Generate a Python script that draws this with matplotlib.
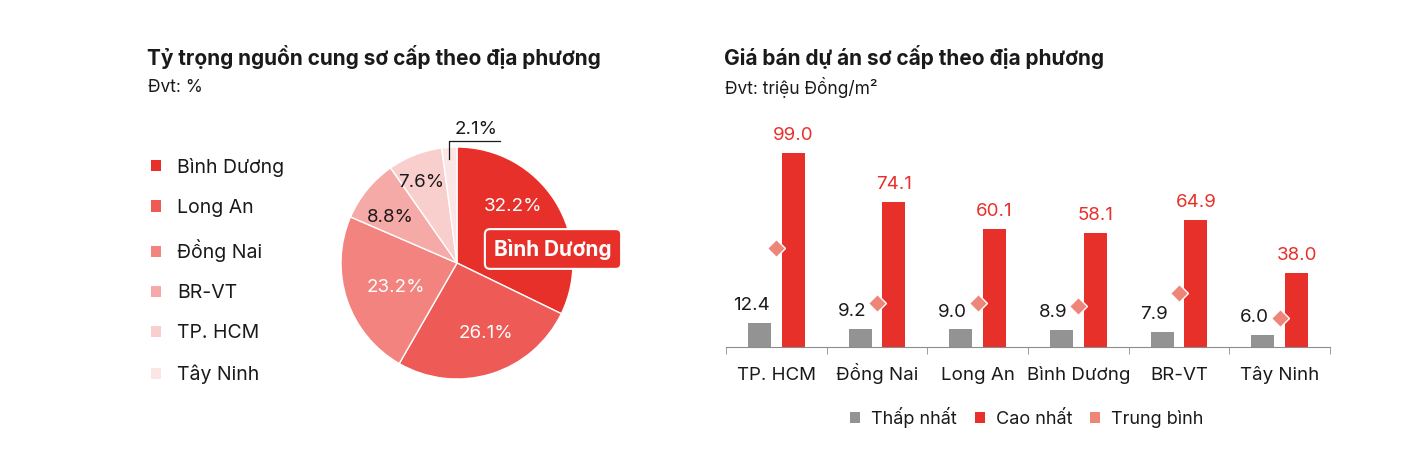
import matplotlib.pyplot as plt
from matplotlib.patches import Patch

plt.rcParams['font.family'] = ['Inter', 'DejaVu Sans']

# left: supply share
share_labels = ['Bình Dương', 'Long An', 'Đồng Nai', 'BR-VT', 'TP. HCM', 'Tây Ninh']
share_values = [32.2, 26.1, 23.2, 8.8, 7.6, 2.1]
share_colors = ['#E8302A', '#EE5A55', '#F2837E', '#F5AAA7', '#F9CFCD', '#FCE6E5']

# right: prices
regions = ['TP. HCM', 'Đồng Nai', 'Long An', 'Bình Dương', 'BR-VT', 'Tây Ninh']
price_min = [12.4, 9.2, 9.0, 8.9, 7.9, 6.0]
price_max = [99.0, 74.1, 60.1, 58.1, 64.9, 38.0]
price_avg = [50.3, 22.3, 22.7, 20.8, 27.7, 14.7]

GRAY = '#939393'
RED = '#E8302A'
PINK = '#EE8579'
TXT = '#1a1a1a'

W, H = 1422, 468
fig = plt.figure(figsize=(W / 100, H / 100), dpi=100)


def fx(px):
    return px / W


def fy(py):
    return 1 - py / H


# titles
fig.text(fx(147), fy(57), 'Tỷ trọng nguồn cung sơ cấp theo địa phương',
         fontsize=15, fontweight='bold', color=TXT, va='center')
fig.text(fx(148), fy(87), 'Đvt: %', fontsize=12.5, color=TXT, va='center')
fig.text(fx(724), fy(57), 'Giá bán dự án sơ cấp theo địa phương',
         fontsize=15, fontweight='bold', color=TXT, va='center')
fig.text(fx(725), fy(87), 'Đvt: triệu Đồng/m²', fontsize=12.5, color=TXT,
         va='center')

# ---- pie ----
cx, cy, R = 457, 263, 116
half = 130
axp = fig.add_axes([fx(cx - half), fy(cy + half), 2 * half / W, 2 * half / H])
lim = half / R
wedges, _ = axp.pie(share_values, colors=share_colors, startangle=90,
                    counterclock=False,
                    wedgeprops=dict(edgecolor='white', linewidth=1.0))
axp.set_xlim(-lim, lim)
axp.set_ylim(-lim, lim)
axp.set_aspect('equal')
axp.axis('off')

import numpy as np

# label placement (radius, angle nudge in degrees)
lab_pos = [(0.69, 13), (0.66, 5), (0.57, 3), (0.70, 5), (0.76, 3)]
lab_col = ['white', 'white', 'white', TXT, TXT]
for w, v, (r, da), c in zip(wedges, share_values, lab_pos, lab_col):
    mid = np.deg2rad((w.theta1 + w.theta2) / 2 + da)
    axp.text(r * np.cos(mid), r * np.sin(mid), f'{v:.1f}%', color=c,
             fontsize=13.5, ha='center', va='center')

# small slice with leader line
w = wedges[-1]
mid = np.deg2rad((w.theta1 + w.theta2) / 2)
x0 = np.cos(mid)
y0 = np.sin(mid) * 0.9
y1 = (cy - 141) / R
x1 = (500 - cx) / R
axp.plot([x0, x0, x1], [y0, y1, y1], color=TXT, lw=0.9, clip_on=False)
axp.text((x0 + x1) / 2 + 0.01, y1 + 0.03, f'{share_values[-1]:.1f}%',
         color=TXT, fontsize=13.5, ha='center', va='bottom', clip_on=False)

# highlight box
axp.text((553 - cx) / R, (cy - 249) / R, share_labels[0], color='white',
         fontsize=15, fontweight='bold', ha='center', va='center',
         bbox=dict(boxstyle='round,pad=0.45,rounding_size=0.25', fc=RED,
                   ec='white', lw=1.5), clip_on=False)

# legend
handles = [Patch(facecolor=c, edgecolor='none') for c in share_colors]
fig.legend(handles, share_labels, loc='upper left',
           bbox_to_anchor=(fx(143), fy(150)), frameon=False, fontsize=14,
           handlelength=0.5, handleheight=0.5, handletextpad=0.85,
           labelspacing=1.14, labelcolor=TXT, borderaxespad=0)

# ---- bars ----
axb = fig.add_axes([fx(726), fy(347), 604 / W, (347 - 110) / H])
x = np.arange(len(regions))
off, bw = 0.168, 0.228
b1 = axb.bar(x - off, price_min, bw, color=GRAY)
b2 = axb.bar(x + off, price_max, bw, color=RED)
axb.plot(x, price_avg, linestyle='none', marker='D', ms=9.5, color=PINK,
         mec='white', mew=1)
for xi, v in zip(x, price_min):
    axb.text(xi - off - 0.08, v + 4.5, f'{v:.1f}', color=TXT, fontsize=13.5,
             ha='center', va='bottom')
for xi, v in zip(x, price_max):
    axb.text(xi + off, v + 4.5, f'{v:.1f}', color=RED, fontsize=13.5,
             ha='center', va='bottom')

axb.set_xlim(-0.5, len(regions) - 0.5)
axb.set_ylim(0, (347 - 110) / 1.96)
for s in ['top', 'right', 'left']:
    axb.spines[s].set_visible(False)
axb.spines['bottom'].set_color('#8c8c8c')
axb.set_yticks([])
axb.set_xticks(x)
axb.set_xticklabels(regions, fontsize=13.5, color=TXT)
for lbl in axb.get_xticklabels():
    lbl.set_verticalalignment('baseline')
axb.tick_params(axis='x', which='major', length=0, pad=24)
axb.set_xticks(np.arange(-0.5, len(regions)), minor=True)
axb.tick_params(axis='x', which='minor', length=5, color='#8c8c8c')

leg_h = [Patch(facecolor=GRAY), Patch(facecolor=RED), Patch(facecolor=PINK)]
fig.legend(leg_h, ['Thấp nhất', 'Cao nhất', 'Trung bình'], loc='center',
           bbox_to_anchor=(fx(1027), fy(417)), ncol=3, frameon=False,
           fontsize=13, handlelength=0.55, handleheight=0.55,
           handletextpad=0.6, columnspacing=1.0, labelcolor=TXT)

fig.savefig('out.png', dpi=100, facecolor='white')
